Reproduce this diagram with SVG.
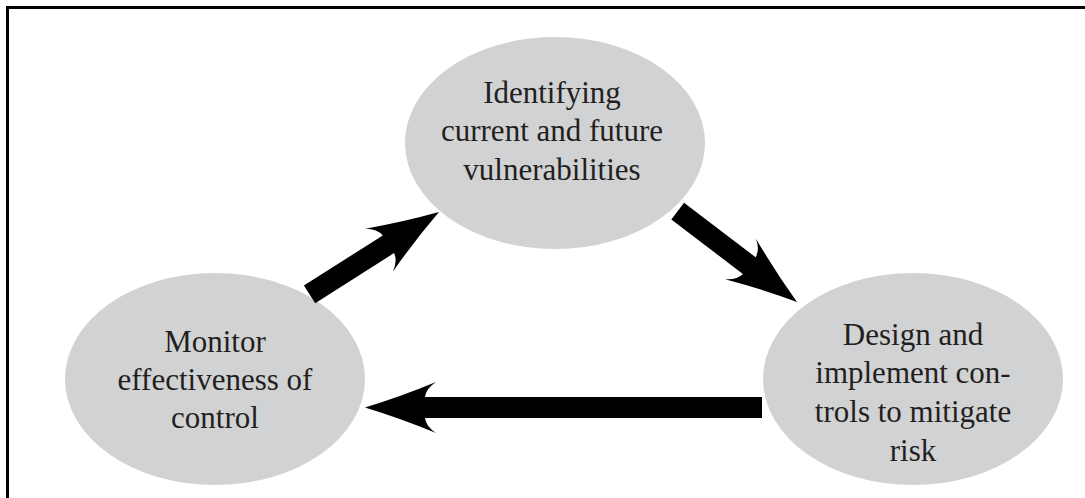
<svg xmlns="http://www.w3.org/2000/svg" width="1085" height="498" viewBox="0 0 1085 498">
<style>
.node ellipse { fill: #d1d2d4; }
.node text { font-family: "Liberation Serif", "Times New Roman", serif; font-size: 31px; fill: #231f20; text-anchor: middle; }
.arrow { fill: #000; }
.frame { fill: none; stroke: #000; stroke-width: 3; }
</style>
<rect x="0" y="0" width="1085" height="498" fill="#fff"/>
<path class="frame" d="M7.5,498 V7.5 H1085"/>
<g id="node-identify" class="node">
<ellipse cx="555" cy="143" rx="150" ry="106"/>
<text x="552" y="103">Identifying</text>
<text x="552" y="141">current and future</text>
<text x="552" y="180">vulnerabilities</text>
</g>
<g id="node-design" class="node">
<ellipse cx="913" cy="379" rx="150" ry="106"/>
<text x="913" y="345">Design and</text>
<text x="913" y="383">implement con-</text>
<text x="913" y="422">trols to mitigate</text>
<text x="913" y="461">risk</text>
</g>
<g id="node-monitor" class="node">
<ellipse cx="215" cy="379" rx="150" ry="106"/>
<text x="215" y="352">Monitor</text>
<text x="215" y="390">effectiveness of</text>
<text x="215" y="428">control</text>
</g>
<g id="connectors">
<path class="arrow" transform="translate(439,212) rotate(-32.5)" d="M-153.5,-10.5 L-60,-10.5 Q-61,-19 -71,-25.5 Q-36,-11 0,0 Q-36,11 -71,25.5 Q-61,19 -60,10.5 L-153.5,10.5 Z"/>
<path class="arrow" transform="translate(797,302) rotate(37.3)" d="M-150,-10.5 L-60,-10.5 Q-61,-19 -71,-25.5 Q-36,-11 0,0 Q-36,11 -71,25.5 Q-61,19 -60,10.5 L-150,10.5 Z"/>
<path class="arrow" transform="translate(365,407.5) rotate(180)" d="M-397,-10.5 L-60,-10.5 Q-61,-19 -71,-25.5 Q-36,-11 0,0 Q-36,11 -71,25.5 Q-61,19 -60,10.5 L-397,10.5 Z"/>
</g>
</svg>
